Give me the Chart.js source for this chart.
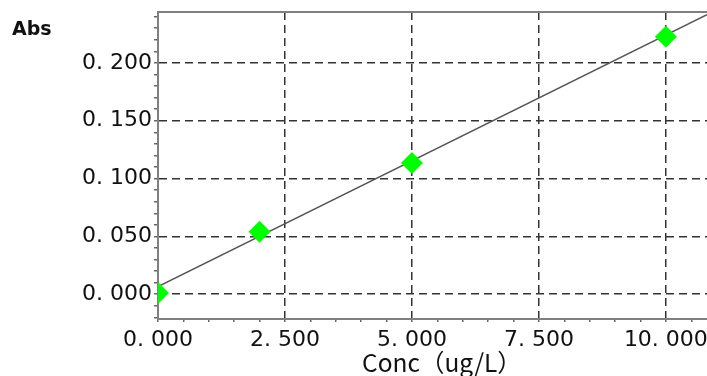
<!DOCTYPE html>
<html>
<head>
<meta charset="utf-8">
<script src="https://cdn.jsdelivr.net/npm/chart.js@4/dist/chart.umd.min.js"></script>
<style>
  html, body { margin: 0; padding: 0; background: #fff; overflow: hidden; }
  #wrap { width: 707px; height: 376px; }
</style>
</head>
<body>
<div id="wrap"><canvas id="c" width="707" height="376"></canvas></div>
<script>
// Calibration standards
const concentrations = [0, 2, 5, 10];
const absorbances = [0.001, 0.054, 0.1135, 0.2225];

// Calibration (fit) line end points
const fitConc = [0, 10.81];
const fitAbs = [0.0066, 0.2416];

// Axis ranges and tick steps
const X_MIN = 0, X_MAX = 10.81, X_MAJOR = 2.5, X_MINOR = 0.5;
const Y_MIN = -0.0214, Y_MAX = 0.244, Y_MAJOR = 0.05, Y_MINOR = 0.01;

const X_TITLE = 'Conc（ug/L）';
const Y_TITLE = 'Abs';

const isMajor = (v, step) => Math.abs(v / step - Math.round(v / step)) < 1e-6;
const fmt = v => v.toFixed(3).replace('.', '. ');

const TICK_FONT = { family: 'DejaVu Sans', size: 22 };
const GRID_COLOR = '#333';
const AXIS_COLOR = '#808080';

// Top frame line and the two axis captions
const framePlugin = {
  id: 'frame',
  afterDraw(chart) {
    const { ctx, chartArea: a } = chart;
    ctx.save();
    ctx.strokeStyle = AXIS_COLOR;
    ctx.lineWidth = 2;
    ctx.beginPath();
    ctx.moveTo(a.left, a.top);
    ctx.lineTo(a.right, a.top);
    ctx.stroke();
    ctx.fillStyle = '#111';
    ctx.textBaseline = 'alphabetic';
    ctx.textAlign = 'left';
    ctx.font = 'bold 19px "DejaVu Sans"';
    ctx.fillText(Y_TITLE, 12, 35);
    ctx.font = '24.5px "Noto Sans CJK JP"';
    ctx.fillText(X_TITLE, a.left + 204, a.bottom + 53);
    ctx.restore();
  }
};

new Chart(document.getElementById('c'), {
  type: 'scatter',
  data: {
    datasets: [
      {
        label: 'Standards',
        data: concentrations.map((c, i) => ({ x: c, y: absorbances[i] })),
        pointStyle: 'rectRot',
        pointRadius: 11,
        pointHoverRadius: 11,
        backgroundColor: '#00ff00',
        borderColor: '#00ff00',
        borderWidth: 0,
        showLine: false,
        order: 0
      },
      {
        label: 'Fit',
        data: fitConc.map((c, i) => ({ x: c, y: fitAbs[i] })),
        showLine: true,
        borderColor: '#555',
        borderWidth: 1.5,
        pointRadius: 0,
        fill: false,
        order: 1
      }
    ]
  },
  options: {
    responsive: false,
    devicePixelRatio: 1,
    animation: false,
    layout: { autoPadding: false, padding: { top: 12, left: 0, right: 0, bottom: 0 } },
    plugins: { legend: { display: false }, tooltip: { enabled: false } },
    scales: {
      x: {
        type: 'linear',
        min: X_MIN,
        max: X_MAX,
        z: 1,
        ticks: {
          stepSize: X_MINOR,
          includeBounds: false,
          autoSkip: false,
          maxRotation: 0,
          minRotation: 0,
          color: '#111',
          font: TICK_FONT,
          padding: 5,
          callback: v => isMajor(v, X_MAJOR) ? fmt(v) : ''
        },
        grid: {
          color: c => (c.tick && c.tick.value !== 0 && isMajor(c.tick.value, X_MAJOR)) ? GRID_COLOR : 'rgba(0,0,0,0)',
          lineWidth: 1.5,
          tickColor: '#666',
          tickWidth: 1.5,
          tickLength: 3
        },
        border: { display: true, color: AXIS_COLOR, width: 2, dash: [8, 5] },
        afterFit: s => { s.height = 57; s.paddingLeft = 0; s.paddingRight = 0; }
      },
      y: {
        type: 'linear',
        min: Y_MIN,
        max: Y_MAX,
        z: 1,
        ticks: {
          stepSize: Y_MINOR,
          includeBounds: false,
          autoSkip: false,
          color: '#111',
          font: TICK_FONT,
          padding: 2,
          callback: v => isMajor(v, Y_MAJOR) ? fmt(v) : ''
        },
        grid: {
          color: c => (c.tick && isMajor(c.tick.value, Y_MAJOR)) ? GRID_COLOR : 'rgba(0,0,0,0)',
          lineWidth: 1.5,
          tickColor: '#666',
          tickWidth: 1.5,
          tickLength: 4
        },
        border: { display: true, color: AXIS_COLOR, width: 2, dash: [8, 5] },
        afterFit: s => { s.width = 158; s.paddingTop = 0; s.paddingBottom = 0; }
      }
    }
  },
  plugins: [framePlugin]
});
</script>
</body>
</html>
